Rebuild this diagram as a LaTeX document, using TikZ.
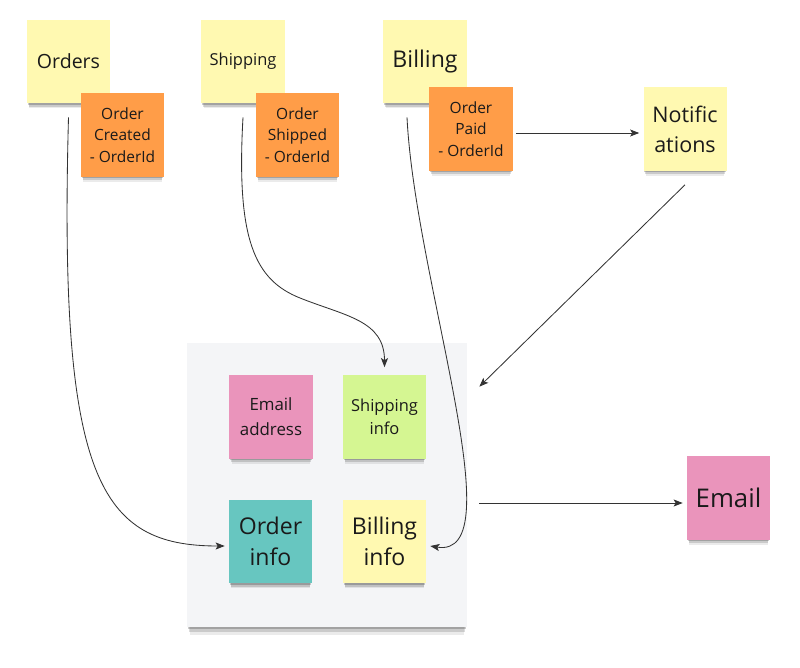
\documentclass[tikz,border=0pt]{standalone}
\usepackage{fontspec}
\setmainfont{Open Sans}
\usepackage{tikz}
\usetikzlibrary{arrows, arrows.meta, calc, shadows, positioning}

\definecolor{stickyyellow}{HTML}{FFF9B1}
\definecolor{stickyorange}{HTML}{FF9D48}
\definecolor{stickypink}{HTML}{EA94BB}
\definecolor{stickygreen}{HTML}{D5F692}
\definecolor{stickyteal}{HTML}{67C6C0}
\definecolor{boardgray}{HTML}{F4F5F7}
\definecolor{textdark}{HTML}{1A1A1A}
\definecolor{linegray}{HTML}{333333}

\tikzset{
	softshadow/.style={
		general shadow={fill=black, opacity=.08, shadow yshift=-6pt, shadow scale=.94},
		general shadow={fill=black, opacity=.14, shadow yshift=-4pt, shadow scale=.96},
		general shadow={fill=black, opacity=.20, shadow yshift=-2pt, shadow scale=.98}},
	boardshadow/.style={
		general shadow={fill=black, opacity=.08, shadow yshift=-8pt, shadow scale=.98},
		general shadow={fill=black, opacity=.14, shadow yshift=-5pt, shadow scale=.985},
		general shadow={fill=black, opacity=.20, shadow yshift=-2.5pt, shadow scale=.99}},
	sticky/.style={rectangle, fill=#1, minimum width=2.075cm, minimum height=2.075cm,
		inner sep=1pt, align=center, text=textdark, softshadow},
	conn/.style={->, draw=linegray, line width=0.6pt}
}

\begin{document}
\begin{tikzpicture}[x=0.025cm, y=-0.025cm, >={Stealth[length=6.5pt,width=5pt,inset=1.5pt]}]
	\useasboundingbox (0,0) rectangle (800,668);

	% read model board
	\node [rectangle, fill=boardgray, minimum width=7cm, minimum height=7.1cm, boardshadow]
		(board) at (327,485) {};

	% services
	\node [sticky=stickyyellow, font=\fontsize{13.9}{17}\selectfont] (orders) at (68.5,61.5) {Orders};
	\node [sticky=stickyyellow, font=\fontsize{11.7}{15}\selectfont] (shipping) at (243,61.5) {Shipping};
	\node [sticky=stickyyellow, font=\fontsize{16.4}{20}\selectfont] (billing) at (425,61.5) {Billing};
	\node [sticky=stickyyellow, font=\fontsize{15.3}{21.3}\selectfont] (notif) at (685,129) {Notific\\ations};

	% events
	\node [sticky=stickyorange, font=\fontsize{11}{15.2}\selectfont] (created) at (122.5,135) {Order\\Created\\- OrderId};
	\node [sticky=stickyorange, font=\fontsize{11}{15.2}\selectfont] (shipped) at (297.5,135) {Order\\Shipped\\- OrderId};
	\node [sticky=stickyorange, font=\fontsize{11}{15.2}\selectfont] (paid) at (471,129) {Order\\Paid\\- OrderId};

	% data on the board
	\node [sticky=stickypink, font=\fontsize{12}{17.8}\selectfont] (emailaddr) at (271,417) {Email\\address};
	\node [sticky=stickygreen, font=\fontsize{11.7}{16.4}\selectfont] (shipinfo) at (384.5,417) {Shipping\\info};
	\node [sticky=stickyteal, font=\fontsize{16.4}{22}\selectfont] (orderinfo) at (270.5,541.5) {Order\\info};
	\node [sticky=stickyyellow, font=\fontsize{16.4}{22}\selectfont] (billinfo) at (384.5,541.5) {Billing\\info};

	\node [sticky=stickypink, font=\fontsize{18.3}{22}\selectfont] (email) at (728.5,498) {Email};

	\coordinate (shipbend) at (300,298);

	\draw [conn] ($(orders.south)+(0,14)$) .. controls +(-10,363) and +(-125,0) .. ($(orderinfo.west)+(-4,4.5)$);
	\draw [conn] ($(shipping.south)+(0,14)$) .. controls +(-7,123) and +(-45,-18) .. (shipbend)
		.. controls +(45,18) and +(0,-47) .. ($(shipinfo.north)+(0,-8)$);
	\draw [conn] ($(billing.south)+(-18,14)$) .. controls +(8,163) and +(85,14) .. ($(billinfo.east)+(4,4.5)$);
	\draw [conn] ($(paid.east)+(3,4)$) -- ($(notif.west)+(-4,4)$);
	\draw [conn] ($(notif.south)+(0,14)$) -- ($(board.north east)+(12,44)$);
	\draw [conn] ($(board.east)+(12,18)$) -- ($(email.west)+(-4,5)$);

\end{tikzpicture}
\end{document}
